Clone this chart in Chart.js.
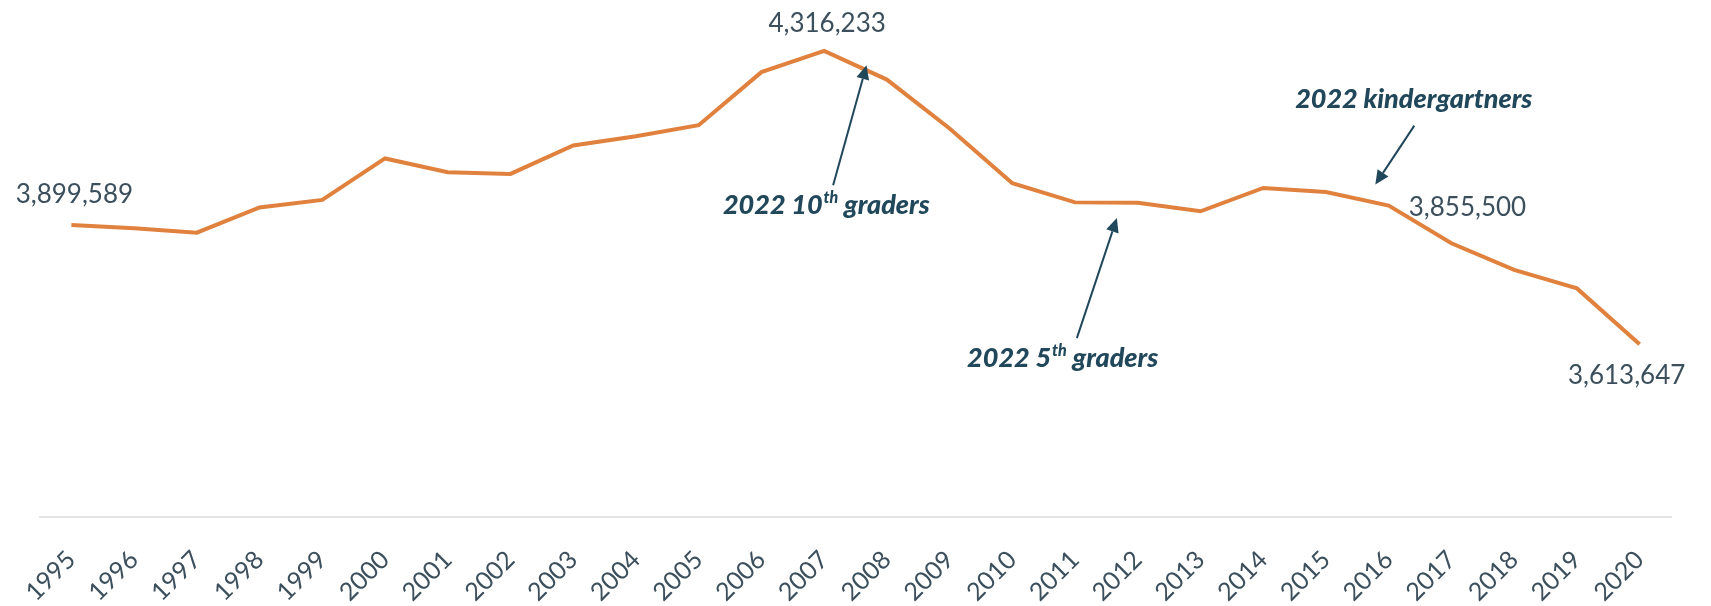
<!DOCTYPE html>
<html>
<head>
<meta charset="utf-8">
<script src="https://cdn.jsdelivr.net/npm/chart.js@4.4.1/dist/chart.umd.min.js"></script>
<style>
  html, body { margin: 0; padding: 0; background: #ffffff; }
  #wrap { width: 1711px; height: 606px; position: relative; }
</style>
</head>
<body>
<div id="wrap"><canvas id="chart" width="1711" height="606"></canvas></div>
<script>
// ---- data ----
const years = ['1995','1996','1997','1998','1999','2000','2001','2002','2003','2004','2005','2006','2007',
               '2008','2009','2010','2011','2012','2013','2014','2015','2016','2017','2018','2019','2020'];
const births = [3899589, 3891494, 3880894, 3941553, 3959417, 4058814, 4025933, 4021726, 4089950, 4112052,
                4138349, 4265555, 4316233, 4247694, 4130665, 3999386, 3953590, 3952841, 3932181, 3988076,
                3978497, 3945875, 3855500, 3791712, 3747540, 3613647];
const labeledYears = ['1995', '2007', '2017', '2020'];
const noteYears = ['2007', '2011', '2016'];
const noteTexts = [
  ['2022 10', 'th', ' graders'],
  ['2022 5', 'th', ' graders'],
  ['2022 kindergartners', '', '']
];

// ---- styles ----
const LINE_COLOR = '#E0813E';
const LABEL_COLOR = '#3C4F5C';
const NOTE_COLOR = '#21475A';
const FONT = 'Lato, "Open Sans", sans-serif';

// offsets (pixels) of the value labels from their points
const valueLabelOffsets = {
  '1995': [3, -30],
  '2007': [3, -27],
  '2017': [16, -36],
  '2020': [-13, 31]
};
// annotation geometry relative to anchor point (pixels)
const noteGeom = [
  { tip: [42.4, 14.3], tail: [9, 134.3], text: [2.2, 153.3] },
  { tip: [41.8, 15.7], tail: [1.8, 135.7], text: [-12.4, 155] },
  { tip: [-13.4, -21], tail: [25.6, -80], text: [25, -108] }
];

function drawArrow(ctx, x1, y1, x2, y2) {
  const ang = Math.atan2(y2 - y1, x2 - x1);
  const headLen = 14, headHalf = 6.5;
  const bx = x2 - headLen * Math.cos(ang), by = y2 - headLen * Math.sin(ang);
  ctx.save();
  ctx.strokeStyle = NOTE_COLOR;
  ctx.fillStyle = NOTE_COLOR;
  ctx.lineWidth = 2;
  ctx.beginPath();
  ctx.moveTo(x1, y1);
  ctx.lineTo(bx, by);
  ctx.stroke();
  ctx.beginPath();
  ctx.moveTo(x2, y2);
  ctx.lineTo(bx + headHalf * Math.sin(ang), by - headHalf * Math.cos(ang));
  ctx.lineTo(bx - headHalf * Math.sin(ang), by + headHalf * Math.cos(ang));
  ctx.closePath();
  ctx.fill();
  ctx.restore();
}

function drawNoteText(ctx, parts, cx, cy) {
  const mainFont = 'italic 900 27px ' + FONT;
  const supFont = 'italic 900 16px ' + FONT;
  ctx.save();
  ctx.fillStyle = NOTE_COLOR;
  ctx.textBaseline = 'alphabetic';
  ctx.textAlign = 'left';
  ctx.font = mainFont;
  const w0 = ctx.measureText(parts[0]).width;
  const w2 = ctx.measureText(parts[2]).width;
  ctx.font = supFont;
  const w1 = parts[1] ? ctx.measureText(parts[1]).width + 1 : 0;
  const total = w0 + w1 + w2;
  let x = cx - total / 2;
  const base = cy + 10;
  ctx.font = mainFont;
  ctx.fillText(parts[0], x, base);
  x += w0;
  if (parts[1]) {
    ctx.font = supFont;
    ctx.fillText(parts[1], x + 1, base - 11);
    x += w1;
  }
  ctx.font = mainFont;
  ctx.fillText(parts[2], x, base);
  ctx.restore();
}

const annotationPlugin = {
  id: 'annotations',
  afterDatasetsDraw(chart) {
    const ctx = chart.ctx;
    const xs = chart.scales.x, ys = chart.scales.y;
    // value labels
    ctx.save();
    ctx.font = '400 26px ' + FONT;
    ctx.fillStyle = LABEL_COLOR;
    ctx.textAlign = 'center';
    ctx.textBaseline = 'middle';
    labeledYears.forEach(yr => {
      const i = years.indexOf(yr);
      const px = xs.getPixelForValue(i), py = ys.getPixelForValue(births[i]);
      const off = valueLabelOffsets[yr];
      ctx.fillText(births[i].toLocaleString('en-US'), px + off[0], py + off[1]);
    });
    ctx.restore();
    // annotations
    noteYears.forEach((yr, k) => {
      const i = years.indexOf(yr);
      const px = xs.getPixelForValue(i), py = ys.getPixelForValue(births[i]);
      const g = noteGeom[k];
      drawArrow(ctx, px + g.tail[0], py + g.tail[1], px + g.tip[0], py + g.tip[1]);
      drawNoteText(ctx, noteTexts[k], px + g.text[0], py + g.text[1]);
    });
  }
};

new Chart(document.getElementById('chart'), {
  type: 'line',
  data: {
    labels: years,
    datasets: [{
      data: births,
      borderColor: LINE_COLOR,
      borderWidth: 4,
      pointRadius: 0,
      pointHoverRadius: 0,
      tension: 0,
      fill: false
    }]
  },
  options: {
    responsive: false,
    animation: false,
    devicePixelRatio: 1,
    layout: { padding: { left: 40, right: 40, top: 16, bottom: 0 } },
    plugins: { legend: { display: false }, tooltip: { enabled: false }, title: { display: false } },
    scales: {
      x: {
        offset: true,
        grid: { display: false, drawTicks: false },
        border: { display: true, color: '#E3E3E3', width: 2 },
        ticks: {
          autoSkip: false,
          minRotation: 45,
          maxRotation: 45,
          padding: 28,
          color: LABEL_COLOR,
          font: { family: FONT, size: 25, weight: '400' }
        },
        afterFit(scale) { scale.height = 89; }
      },
      y: {
        display: false,
        min: 3200000,
        max: 4400000
      }
    }
  },
  plugins: [annotationPlugin]
});
</script>
</body>
</html>
